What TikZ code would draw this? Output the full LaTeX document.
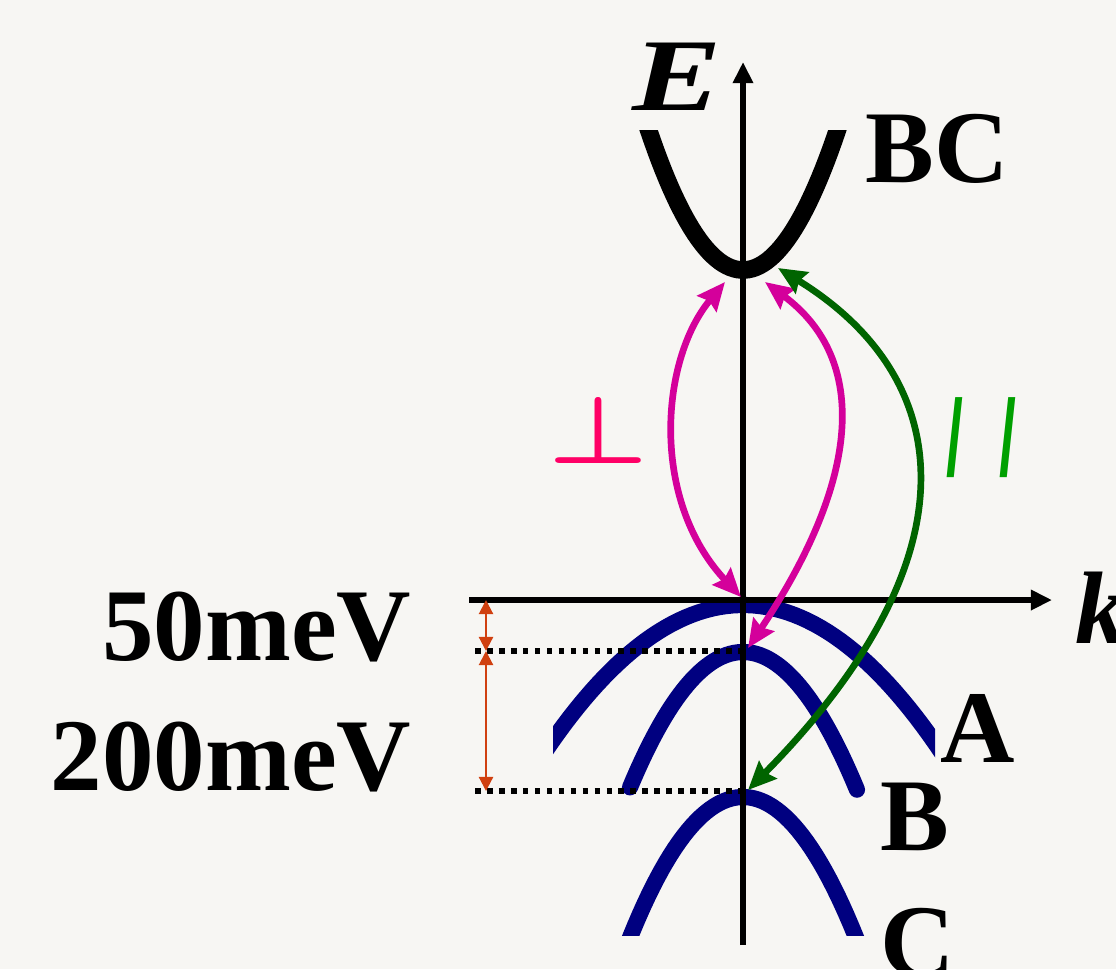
\documentclass[tikz,border=0pt]{standalone}
\usepackage{fontspec}
\setmainfont{Liberation Serif}
\newfontfamily\slashfont{Liberation Sans}
\usepackage{xcolor}
\usepackage{graphicx}
\usetikzlibrary{arrows.meta}

\definecolor{paper}{HTML}{F7F6F3}
\definecolor{bandblue}{HTML}{000080}
\definecolor{perppink}{HTML}{D4009B}
\definecolor{perplabel}{HTML}{FF0066}
\definecolor{pargreen}{HTML}{006400}
\definecolor{parlabel}{HTML}{00A000}
\definecolor{gaporange}{HTML}{D04010}

\begin{document}
\begin{tikzpicture}[
    x=0.01cm, y=-0.01cm,
    axis/.style={line width=1.8pt, -{Triangle[length=6pt,width=5.5pt]}},
    band/.style={line width=4.6pt, bandblue},
    trans/.style={line width=1.9pt, {Stealth[length=8pt,width=7pt,inset=1pt]}-{Stealth[length=8pt,width=7pt,inset=1pt]}},
    gap/.style={gaporange, line width=0.6pt, {Triangle[length=4pt,width=4pt]}-{Triangle[length=4pt,width=4pt]}},
    level/.style={line width=1.6pt, dash pattern=on 1.6pt off 1.8pt},
    lbl/.style={font=\fontsize{29.3}{32}\selectfont\bfseries, inner sep=0pt}
]
\fill[paper] (0,0) rectangle (1116,969);
\useasboundingbox (0,0) rectangle (1116,969);

\coordinate (origin) at (743,600);
\coordinate (kend) at (1052,600);
\coordinate (kstart) at (469,600);
\coordinate (ebot) at (743,945);
\coordinate (etop) at (743,62);

\coordinate (vBC) at (743,270);
\coordinate (vA) at (743,605);
\coordinate (vB) at (743,651);
\coordinate (vC) at (743,791);

\coordinate (bcL) at (725,282);
\coordinate (bcR) at (765,282);
\coordinate (bcG) at (778,268);
\coordinate (tipA) at (741,597);
\coordinate (tipB) at (748,648);
\coordinate (tipC) at (748,790);

\coordinate (lvlB) at (475,651);
\coordinate (lvlC) at (475,791);
\coordinate (gap0) at (486,600);
\coordinate (gap1) at (486,651);
\coordinate (gap2) at (486,791);

% bands
\begin{scope}
\clip (600,130) rectangle (900,400);
\draw[line width=5pt] plot[domain=-1.05:1.05, samples=60] ({743+100*\x},{270-157*\x*\x});
\end{scope}
\begin{scope}
\clip (553,0) rectangle (935,969);
\draw[band] plot[domain=-2:2, samples=60] ({743+100*\x},{605+37.4*\x*\x});
\end{scope}
\draw[band, line cap=round] plot[domain=-1.13:1.14, samples=60] ({743+100*\x},{652+106*\x*\x});
\begin{scope}
\clip (0,0) rectangle (1116,935);
\draw[band] plot[domain=-1.3:1.3, samples=60] ({743+100*\x},{797+110*\x*\x});
\end{scope}

\draw[axis] (ebot) -- (etop);
\draw[axis] (kstart) -- (kend);

\draw[level] (lvlB) -- (vB);
\draw[level] (lvlC) -- (vC);
\draw[gap] (gap0) -- (gap1);
\draw[gap] (gap1) -- (gap2);

\draw[trans, perppink] (bcL) .. controls +(-65,78) and +(-91,-97) .. (tipA);
\draw[trans, perppink] (bcR) .. controls +(105,78) and +(112,-168) .. (tipB);
\draw[trans, pargreen] (bcG) .. controls +(182,112) and +(227,-230) .. (tipC);

\node[lbl, anchor=base east] (gap50) at (412,660) {50meV};
\node[lbl, anchor=base east] (gap200) at (412,790) {200meV};
\node[lbl, anchor=base west] (labBC) at (865,182) {BC};
\node[lbl, anchor=base west] (labA) at (940,762) {A};
\node[lbl, anchor=base west] (labB) at (880,850) {B};
\node[lbl, anchor=base west] (labC) at (880,976) {C};
\node[lbl, anchor=base west] (labE) at (632,110) {\scalebox{1.3}[1]{\itshape E}};
\node[lbl, anchor=base west] (labk) at (1075,643) {\itshape k};
\node[perplabel, inner sep=0pt] (perp) at (599,430) {\resizebox{1.0cm}{0.66cm}{\boldmath$\perp$}};
\node[parlabel, inner sep=0pt] (par) at (981,438) {\resizebox*{0.70cm}{0.80cm}{\slashfont\bfseries /\hspace{0.6em}/}};
\end{tikzpicture}
\end{document}
